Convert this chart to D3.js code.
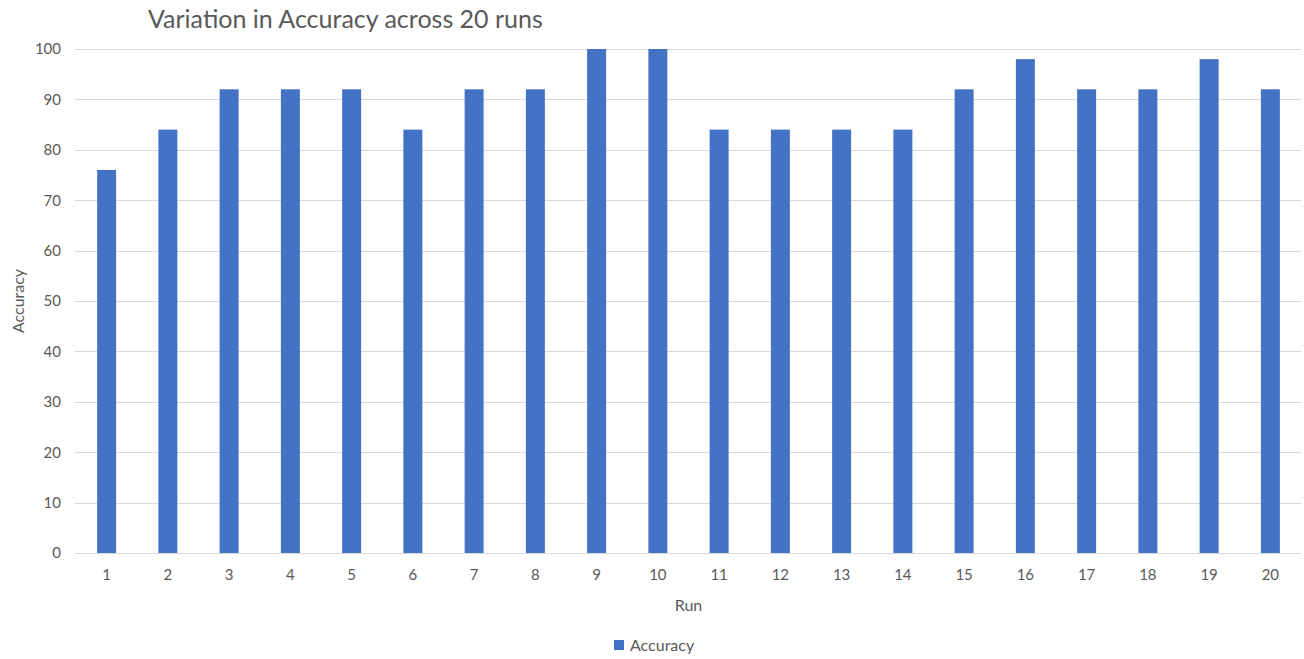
<!DOCTYPE html>
<html>
<head>
<meta charset="utf-8">
<script src="https://cdn.jsdelivr.net/npm/d3@7"></script>
<style>
  html, body { margin: 0; padding: 0; background: #fff; }
  svg { display: block; }
  text { font-family: Lato, "Noto Sans", sans-serif; fill: #595959; }
</style>
</head>
<body>
<div id="chart"></div>
<script>
// Accuracy recorded for each of the 20 runs
const runs = ["1","2","3","4","5","6","7","8","9","10","11","12","13","14","15","16","17","18","19","20"];
const accuracy = [76, 84, 92, 92, 92, 84, 92, 92, 100, 100, 84, 84, 84, 84, 92, 98, 92, 92, 98, 92];
const yTicks = [0, 10, 20, 30, 40, 50, 60, 70, 80, 90, 100];

const width = 1304, height = 659;
const margin = { top: 49, right: 3, bottom: 106, left: 76 };

const svg = d3.select("#chart").append("svg")
  .attr("width", width).attr("height", height);

const x = d3.scaleBand()
  .domain(runs)
  .range([margin.left, width - margin.right])
  .paddingInner(0.69)
  .paddingOuter(0.345);

const y = d3.scaleLinear()
  .domain([0, 100])
  .range([height - margin.bottom, margin.top]);

// Horizontal gridlines
svg.append("g")
  .selectAll("line")
  .data(yTicks)
  .join("line")
  .attr("x1", margin.left - 1)
  .attr("x2", width - margin.right)
  .attr("y1", d => Math.round(y(d)) + 0.5)
  .attr("y2", d => Math.round(y(d)) + 0.5)
  .attr("stroke", "#d9d9d9")
  .attr("stroke-width", 1);

// Y axis labels
const yAxis = d3.axisLeft(y).tickValues(yTicks).tickSize(0).tickPadding(15);
svg.append("g")
  .attr("transform", `translate(${margin.left},0)`)
  .call(yAxis)
  .call(g => g.select(".domain").remove())
  .call(g => g.selectAll("text").attr("font-size", 15).style("font-family", "Lato, sans-serif").attr("fill", "#595959"));

// Bars
svg.append("g")
  .selectAll("rect")
  .data(accuracy)
  .join("rect")
  .attr("x", (d, i) => x(runs[i]))
  .attr("y", d => y(d))
  .attr("width", x.bandwidth())
  .attr("height", d => y(0) - y(d))
  .attr("fill", "#4472c4");

// X axis labels
const xAxis = d3.axisBottom(x).tickSize(0).tickPadding(16);
svg.append("g")
  .attr("transform", `translate(0,${y(0)})`)
  .call(xAxis)
  .call(g => g.select(".domain").remove())
  .call(g => g.selectAll("text").attr("font-size", 15).style("font-family", "Lato, sans-serif").attr("fill", "#595959"));

// Title
svg.append("text")
  .attr("x", 148)
  .attr("y", 28)
  .attr("font-size", 25)
  .text("Variation in Accuracy across 20 runs");

// Axis titles
svg.append("text")
  .attr("x", (margin.left + width - margin.right) / 2)
  .attr("y", 611)
  .attr("text-anchor", "middle")
  .attr("font-size", 16)
  .text("Run");

svg.append("text")
  .attr("transform", `translate(24,${(margin.top + height - margin.bottom) / 2}) rotate(-90)`)
  .attr("text-anchor", "middle")
  .attr("font-size", 16)
  .text("Accuracy");

// Legend
const legend = svg.append("g").attr("transform", "translate(614,640)");
legend.append("rect")
  .attr("width", 10).attr("height", 10)
  .attr("fill", "#4472c4");
legend.append("text")
  .attr("x", 16)
  .attr("y", 11)
  .attr("font-size", 16)
  .text("Accuracy");
</script>
</body>
</html>
